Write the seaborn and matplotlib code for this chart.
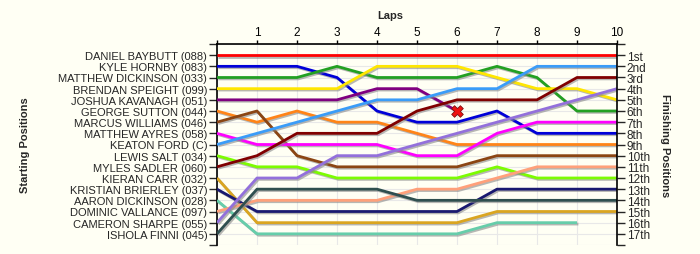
import matplotlib
matplotlib.use("Agg")
import matplotlib.pyplot as plt
import matplotlib.patheffects as pe
import seaborn as sns
import pandas as pd

drivers = ["DANIEL BAYBUTT (088)", "KYLE HORNBY (083)", "MATTHEW DICKINSON (033)",
           "BRENDAN SPEIGHT (099)", "JOSHUA KAVANAGH (051)", "GEORGE SUTTON (044)",
           "MARCUS WILLIAMS (046)", "MATTHEW AYRES (058)", "KEATON FORD (C)",
           "LEWIS SALT (034)", "MYLES SADLER (060)", "KIERAN CARR (032)",
           "KRISTIAN BRIERLEY (037)", "AARON DICKINSON (028)", "DOMINIC VALLANCE (097)",
           "CAMERON SHARPE (055)", "ISHOLA FINNI (045)"]

# positions per lap (lap 0 = start)
pos_baybutt   = [1, 1, 1, 1, 1, 1, 1, 1, 1, 1, 1]
pos_hornby    = [2, 2, 2, 3, 6, 7, 7, 6, 8, 8, 8]
pos_mdick     = [3, 3, 3, 2, 3, 3, 3, 2, 3, 6, 6]
pos_speight   = [4, 4, 4, 4, 2, 2, 2, 3, 4, 4, 5]
pos_kavanagh  = [5, 5, 5, 5, 4, 4, 6]
pos_sutton    = [6, 7, 6, 7, 7, 8, 9, 9, 9, 9, 9]
pos_williams  = [7, 6, 10, 11, 11, 11, 11, 10, 10, 10, 10]
pos_ayres     = [8, 9, 9, 9, 9, 10, 10, 8, 7, 7, 7]
pos_ford      = [9, 8, 7, 6, 5, 5, 4, 4, 2, 2, 2]
pos_salt      = [10, 11, 11, 12, 12, 12, 12, 11, 12, 12, 12]
pos_sadler    = [11, 10, 8, 8, 8, 6, 5, 5, 5, 3, 3]
pos_carr      = [12, 16, 16, 16, 16, 16, 16, 15, 15, 15, 15]
pos_brierley  = [13, 15, 15, 15, 15, 15, 15, 13, 13, 13, 13]
pos_adick     = [14, 17, 17, 17, 17, 17, 17, 16, 16, 16]
pos_vallance  = [15, 14, 14, 14, 14, 13, 13, 12, 11, 11, 11]
pos_sharpe    = [16, 12, 12, 10, 10, 9, 8, 7, 6, 5, 4]
pos_finni     = [17, 13, 13, 13, 13, 14, 14, 14, 14, 14, 14]

all_positions = [pos_baybutt, pos_hornby, pos_mdick, pos_speight, pos_kavanagh,
                 pos_sutton, pos_williams, pos_ayres, pos_ford, pos_salt, pos_sadler,
                 pos_carr, pos_brierley, pos_adick, pos_vallance, pos_sharpe, pos_finni]

colors = ["#FF0000", "#0000D8", "#22A022", "#FFE600", "#800080", "#FF8418",
          "#8B4513", "#FF00FF", "#3A9CF8", "#7CFC00", "#800000", "#DAA520",
          "#191970", "#66CDAA", "#FFA07A", "#9370DB", "#2F4F4F"]

retired_driver = "JOSHUA KAVANAGH (051)"
retired_lap = 6
retired_pos = 6

lap_ticks = list(range(0, 11))
finish_labels = ["1st", "2nd", "3rd", "4th", "5th", "6th", "7th", "8th", "9th", "10th",
                 "11th", "12th", "13th", "14th", "15th", "16th", "17th"]

rows = []
for d, p in zip(drivers, all_positions):
    for lap, v in enumerate(p):
        rows.append({"driver": d, "lap": lap, "pos": v})
df = pd.DataFrame(rows)

sns.set_style("white")
plt.rcParams["font.family"] = ["Liberation Sans", "DejaVu Sans"]
bg = "#FFFFF4"

fig = plt.figure(figsize=(7, 2.55), dpi=100, facecolor=bg)
ax = fig.add_axes([217/700, 1-246/255, 400/700, 201/255])
ax.set_facecolor(bg)

sns.lineplot(data=df, x="lap", y="pos", hue="driver", hue_order=drivers,
             palette=dict(zip(drivers, colors)), estimator=None, sort=False,
             linewidth=2, legend=False, ax=ax, zorder=3)
for line in ax.get_lines():
    line.set_path_effects([pe.SimpleLineShadow(offset=(1, -1), shadow_color="#888888", alpha=0.6),
                           pe.Normal()])
    line.set_solid_capstyle("butt")

mk = pd.DataFrame({"lap": [retired_lap], "pos": [retired_pos]})
sns.scatterplot(data=mk, x="lap", y="pos", marker="X", s=70, color="#EE1111",
                edgecolor="#801010", linewidth=0.6, ax=ax, zorder=5)

ax.set_xlim(0, 10)
ax.set_ylim(18, 0)
ax.set_xticks(lap_ticks)
ax.set_xticklabels([""] + [str(i) for i in lap_ticks[1:]])
ax.xaxis.tick_top()
ax.xaxis.set_label_position("top")
ax.set_xlabel("Laps", fontsize=8, fontweight="bold")
ax.xaxis.set_label_coords(0.4325, 1.13)
ax.set_yticks(range(0, 19))
ax.set_yticklabels([""] + drivers + [""])
ax.set_ylabel("Starting Positions", fontsize=8, fontweight="bold")
ax.yaxis.set_label_coords(-0.4675, 0.5)

ax.grid(True, color="#E8E8E8", linewidth=0.8, zorder=0)
ax.set_axisbelow(True)
ax.tick_params(axis="x", direction="out", length=3, width=1, pad=1, labelsize=8.5, colors="#000000")
ax.tick_params(axis="y", direction="out", length=6, width=1, pad=1, labelsize=8)
for s in ["left", "top"]:
    ax.spines[s].set_color("black")
    ax.spines[s].set_linewidth(1.2)
ax.spines["bottom"].set_visible(False)
ax.spines["right"].set_visible(False)

ax2 = ax.twinx()
ax2.set_ylim(18, 0)
ax2.set_yticks(range(0, 19))
ax2.set_yticklabels([""] + finish_labels + [""])
ax2.tick_params(axis="y", direction="out", length=6, width=1, pad=1, labelsize=8.5)
ax2.set_ylabel("Finishing Positions", fontsize=8, fontweight="bold", rotation=270)
ax2.yaxis.set_label_coords(1.1325, 0.5)
for s in ["left", "top", "bottom"]:
    ax2.spines[s].set_visible(False)
ax2.spines["right"].set_color("black")
ax2.spines["right"].set_linewidth(1.2)

fig.savefig("out.png", dpi=100, facecolor=bg)
